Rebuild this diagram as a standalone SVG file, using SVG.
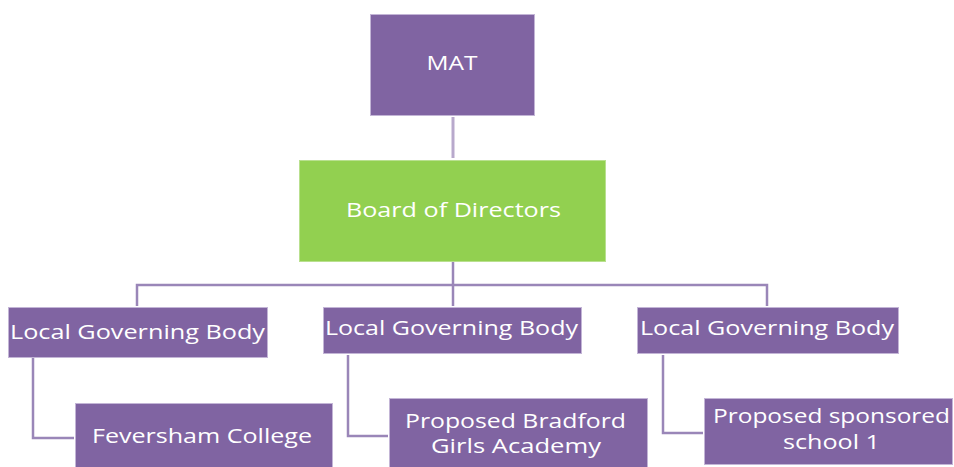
<svg xmlns="http://www.w3.org/2000/svg" width="954" height="467" viewBox="0 0 954 467">
  <style>
    .box { fill: #8064a2; stroke: #c3b5d6; stroke-width: 1; }
    .green { fill: #92d050; stroke: #b9e08f; stroke-width: 1; }
    .lbl { font-family: "Open Sans", "Liberation Sans", sans-serif; font-size: 20px; fill: #ffffff; text-anchor: middle; }
    .wire { fill: none; stroke: #9a86b8; stroke-width: 2.5; }
    .wire-light { fill: none; stroke: #b8a9cc; stroke-width: 3; }
  </style>
  <rect width="954" height="467" fill="#ffffff"/>

  <g id="connectors">
    <line class="wire-light" x1="453" y1="117" x2="453" y2="158"/>
    <line class="wire" x1="453" y1="262" x2="453" y2="306"/>
    <polyline class="wire" points="137,306 137,285 767,285 767,306"/>
    <polyline class="wire" points="33,358 33,438 74,438"/>
    <polyline class="wire" points="348,355 348,436 388,436"/>
    <polyline class="wire" points="663,355 663,433 703,433"/>
  </g>

  <g id="mat">
    <rect class="box" x="370.5" y="14.5" width="164" height="101"/>
    <text class="lbl" x="452" y="70" textLength="51" lengthAdjust="spacingAndGlyphs">MAT</text>
  </g>

  <g id="board">
    <rect class="green" x="299.5" y="160.5" width="306" height="101"/>
    <text class="lbl" x="453.5" y="217" textLength="215" lengthAdjust="spacingAndGlyphs">Board of Directors</text>
  </g>

  <g id="lgb-1">
    <rect class="box" x="8.5" y="307.5" width="259" height="50"/>
    <text class="lbl" x="137.5" y="339" textLength="255" lengthAdjust="spacingAndGlyphs">Local Governing Body</text>
  </g>

  <g id="lgb-2">
    <rect class="box" x="323.5" y="307.5" width="258" height="46"/>
    <text class="lbl" x="451.5" y="335" textLength="253" lengthAdjust="spacingAndGlyphs">Local Governing Body</text>
  </g>

  <g id="lgb-3">
    <rect class="box" x="637.5" y="307.5" width="261" height="46"/>
    <text class="lbl" x="767" y="335" textLength="254" lengthAdjust="spacingAndGlyphs">Local Governing Body</text>
  </g>

  <g id="feversham">
    <rect class="box" x="75.5" y="403.5" width="257" height="70"/>
    <text class="lbl" x="202" y="443" textLength="220" lengthAdjust="spacingAndGlyphs">Feversham College</text>
  </g>

  <g id="bradford">
    <rect class="box" x="389.5" y="398.5" width="258" height="75"/>
    <text class="lbl" x="515.5" y="428" textLength="221" lengthAdjust="spacingAndGlyphs">Proposed Bradford</text>
    <text class="lbl" x="516" y="453" textLength="170" lengthAdjust="spacingAndGlyphs">Girls Academy</text>
  </g>

  <g id="sponsored">
    <rect class="box" x="704.5" y="398.5" width="248" height="66"/>
    <text class="lbl" x="831.5" y="423" textLength="237" lengthAdjust="spacingAndGlyphs">Proposed sponsored</text>
    <text class="lbl" x="831.5" y="449" textLength="97" lengthAdjust="spacingAndGlyphs">school 1</text>
  </g>
</svg>
